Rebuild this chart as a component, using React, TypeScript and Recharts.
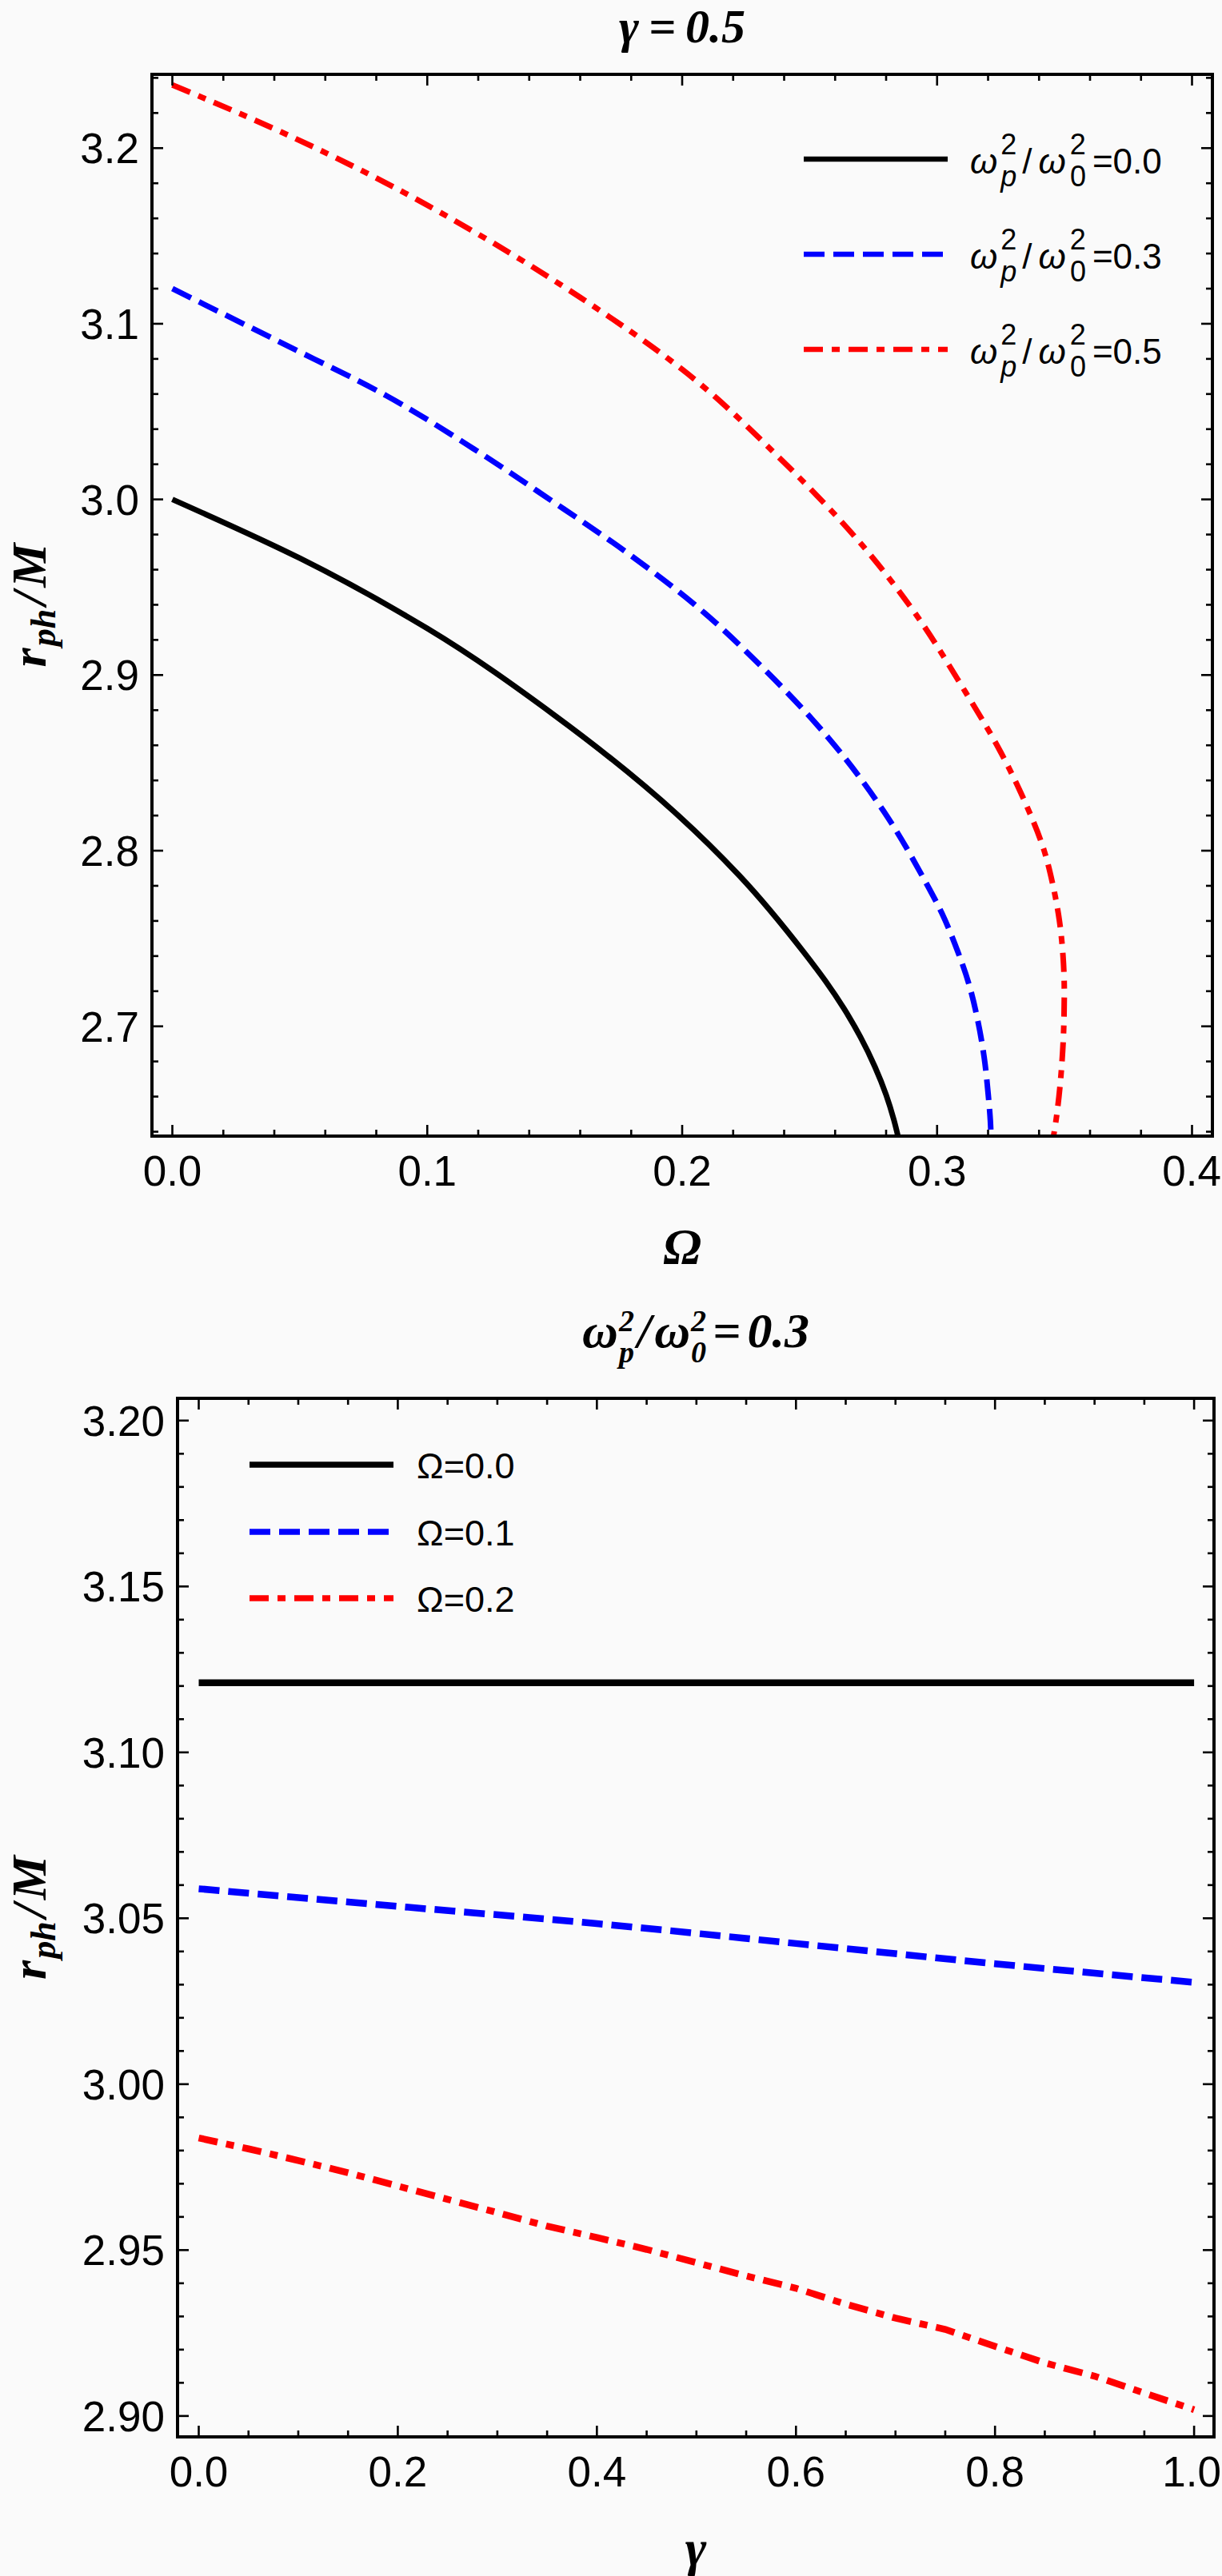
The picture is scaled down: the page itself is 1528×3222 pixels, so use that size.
import React from "react";
import { LineChart, Line, XAxis, YAxis, Legend, Label } from "recharts";

const W = 1528;
const SANS = "'Liberation Sans', Arial, Helvetica, sans-serif";
const SERIF = "'Liberation Serif', 'Times New Roman', Times, serif";

// ---------------- Panel 1 (gamma = 0.5): r_ph/M versus Omega ----------------
const omegaW00 = [0, 0.05, 0.1, 0.15, 0.1985, 0.2223, 0.2478, 0.2561, 0.2635, 0.2699, 0.2756, 0.28, 0.283, 0.2849];
const rW00 = [3.0, 2.9665, 2.9265, 2.877, 2.82, 2.786, 2.742, 2.726, 2.71, 2.694, 2.677, 2.661, 2.647, 2.636];

const omegaW03 = [0, 0.043, 0.084, 0.118, 0.148, 0.179, 0.205, 0.231, 0.2575, 0.2788, 0.2948, 0.302, 0.308, 0.3125, 0.316, 0.3185, 0.32, 0.3209, 0.3212];
const rW03 = [3.12, 3.089, 3.059, 3.029, 3.0, 2.969, 2.94, 2.905, 2.864, 2.823, 2.784, 2.764, 2.743, 2.724, 2.703, 2.682, 2.662, 2.646, 2.636];

const omegaW05 = [0, 0.04, 0.08, 0.12, 0.16, 0.2, 0.24, 0.27, 0.29, 0.31, 0.325, 0.335, 0.342, 0.3455, 0.348, 0.3494, 0.3499, 0.3497, 0.349, 0.3478, 0.3463, 0.3455];
const rW05 = [3.236, 3.211, 3.183, 3.151, 3.115, 3.074, 3.021, 2.975, 2.938, 2.893, 2.856, 2.826, 2.8, 2.78, 2.76, 2.74, 2.72, 2.7, 2.68, 2.66, 2.643, 2.636];

const xTicksTop = [0, 0.02, 0.04, 0.06, 0.08, 0.1, 0.12, 0.14, 0.16, 0.18, 0.2, 0.22, 0.24, 0.26, 0.28, 0.3, 0.32, 0.34, 0.36, 0.38, 0.4];
const xMajorTop = [0, 0.1, 0.2, 0.3, 0.4];
const yTicksTop = [2.64, 2.66, 2.68, 2.7, 2.72, 2.74, 2.76, 2.78, 2.8, 2.82, 2.84, 2.86, 2.88, 2.9, 2.92, 2.94, 2.96, 2.98, 3.0, 3.02, 3.04, 3.06, 3.08, 3.1, 3.12, 3.14, 3.16, 3.18, 3.2, 3.22, 3.24];
const yMajorTop = [2.7, 2.8, 2.9, 3.0, 3.1, 3.2];
const legendTop = ["0.0", "0.3", "0.5"];

// ---------------- Panel 2 (wp^2/w0^2 = 0.3): r_ph/M versus gamma ----------------
const gammaO00 = [0, 1];
const rO00 = [3.121, 3.121];

const gammaO01 = [0, 0.2, 0.4, 0.6, 0.8, 1.0];
const rO01 = [3.0589, 3.0536, 3.0484, 3.0424, 3.0363, 3.0307];

const gammaO02 = [0, 0.05, 0.1, 0.15, 0.2, 0.25, 0.3, 0.35, 0.4, 0.45, 0.5, 0.55, 0.6, 0.65, 0.7, 0.75, 0.8, 0.85, 0.9, 0.95, 1.0];
const rO02 = [2.9838, 2.9805, 2.977, 2.9733, 2.9693, 2.9653, 2.9613, 2.9572, 2.9538, 2.9502, 2.9462, 2.9422, 2.9385, 2.9337, 2.9295, 2.9261, 2.921, 2.916, 2.912, 2.9069, 2.9019];

const xTicksBot = [0, 0.05, 0.1, 0.15, 0.2, 0.25, 0.3, 0.35, 0.4, 0.45, 0.5, 0.55, 0.6, 0.65, 0.7, 0.75, 0.8, 0.85, 0.9, 0.95, 1.0];
const xMajorBot = [0, 0.2, 0.4, 0.6, 0.8, 1.0];
const yTicksBot = [2.9, 2.91, 2.92, 2.93, 2.94, 2.95, 2.96, 2.97, 2.98, 2.99, 3.0, 3.01, 3.02, 3.03, 3.04, 3.05, 3.06, 3.07, 3.08, 3.09, 3.1, 3.11, 3.12, 3.13, 3.14, 3.15, 3.16, 3.17, 3.18, 3.19, 3.2];
const yMajorBot = [2.9, 2.95, 3.0, 3.05, 3.1, 3.15, 3.2];
const legendBot = ["0.0", "0.1", "0.2"];

// ---------------- styles ----------------
const BLACK = "#000000";
const BLUE = "#0000ff";
const RED = "#ff0000";
const DASH = "26 11";
const DOTDASH = "24 11 10 11";
const AXIS = { stroke: "#000", strokeWidth: 4, strokeLinecap: "square" as const };
const TICK_FONT = 53;

const toPts = (xs: number[], ys: number[]) => xs.map((x, i) => ({ x, y: ys[i] }));

type Side = "bottom" | "top" | "left" | "right";

function makeTick(side: Side, majors: number[], digits: number, labelled: boolean) {
  return (p: any) => {
    const x = Number(p.x);
    const y = Number(p.y);
    const v = Number(p.payload.value);
    const isMajor = majors.some((m) => Math.abs(m - v) < 1e-6);
    const len = isMajor ? 14 : 8;
    let x2 = x;
    let y2 = y;
    if (side === "bottom") y2 = y - len;
    if (side === "top") y2 = y + len;
    if (side === "left") x2 = x + len;
    if (side === "right") x2 = x - len;
    const txt = v.toFixed(digits);
    // keep the label inside the page
    const half = ((txt.length - 1) * 0.556 * TICK_FONT) / 2 + 0.139 * TICK_FONT;
    const lx = Math.min(x, W - 1 - half);
    return (
      <g>
        <line x1={x} y1={y} x2={x2} y2={y2} stroke="#000" strokeWidth={2.6} />
        {labelled && isMajor && side === "bottom" && (
          <text x={lx} y={y + 62} textAnchor="middle" fontFamily={SANS} fontSize={TICK_FONT} fill="#000">
            {txt}
          </text>
        )}
        {labelled && isMajor && side === "left" && (
          <text x={x - 16} y={y + 19} textAnchor="end" fontFamily={SANS} fontSize={TICK_FONT} fill="#000">
            {txt}
          </text>
        )}
      </g>
    );
  };
}

// r_ph / M, rotated
const yLabelContent = (p: any) => {
  const vb = p.viewBox;
  const cx = 57;
  const cy = vb.y + vb.height / 2;
  return (
    <text
      x={cx}
      y={cy}
      transform={`rotate(-90 ${cx} ${cy})`}
      textAnchor="middle"
      fontFamily={SERIF}
      fontWeight="bold"
      fontStyle="italic"
      fontSize={62}
      fill="#000"
    >
      r
      <tspan fontSize={44} dy={12} dx={2}>ph</tspan>
      <tspan dy={-12} dx={5}>/</tspan>
      <tspan dx={5}>M</tspan>
    </text>
  );
};

const xLabelContent = (text: string) => (p: any) => {
  const vb = p.viewBox;
  return (
    <text
      x={vb.x + vb.width / 2}
      y={vb.y + 160}
      textAnchor="middle"
      fontFamily={SERIF}
      fontWeight="bold"
      fontStyle="italic"
      fontSize={64}
      fill="#000"
    >
      {text}
    </text>
  );
};

const titleGamma = (p: any) => {
  const vb = p.viewBox;
  return (
    <text
      x={vb.x + vb.width / 2}
      y={vb.y + vb.height - 40}
      textAnchor="middle"
      fontFamily={SERIF}
      fontWeight="bold"
      fontStyle="italic"
      fontSize={60}
      fill="#000"
    >
      γ
      <tspan dx={12}>=</tspan>
      <tspan dx={12}>0.5</tspan>
    </text>
  );
};

const titleRatio = (p: any) => {
  const vb = p.viewBox;
  return (
    <text
      x={vb.x + vb.width / 2}
      y={vb.y + vb.height - 64}
      textAnchor="middle"
      fontFamily={SERIF}
      fontWeight="bold"
      fontStyle="italic"
      fontSize={62}
      fill="#000"
    >
      ω
      <tspan fontSize={38} dy={-20} dx={1}>2</tspan>
      <tspan fontSize={38} dx={-19} dy={39}>p</tspan>
      <tspan dy={-19} dx={4}>/</tspan>
      <tspan dx={4}>ω</tspan>
      <tspan fontSize={38} dy={-20} dx={1}>2</tspan>
      <tspan fontSize={38} dx={-19} dy={39}>0</tspan>
      <tspan dy={-19} dx={8}>=</tspan>
      <tspan dx={8}>0.3</tspan>
    </text>
  );
};

interface Entry {
  color: string;
  dash?: string;
}

const entries: Entry[] = [{ color: BLACK }, { color: BLUE, dash: DASH }, { color: RED, dash: DOTDASH }];

const LegendTop = () => {
  const rows = [49, 168, 287];
  return (
    <svg width={520} height={330}>
      {entries.map((e, i) => (
        <g key={i}>
          <line x1={10} y1={rows[i]} x2={190} y2={rows[i]} stroke={e.color} strokeWidth={6.5} strokeDasharray={e.dash} />
          <text x={218} y={rows[i] + 18} fontFamily={SANS} fontSize={44} fill="#000">
            <tspan fontStyle="italic">ω</tspan>
            <tspan fontSize={36} dy={-24} dx={4}>2</tspan>
            <tspan fontSize={36} fontStyle="italic" dx={-20} dy={40}>p</tspan>
            <tspan dy={-16} dx={7}>/</tspan>
            <tspan fontStyle="italic" dx={8}>ω</tspan>
            <tspan fontSize={36} dy={-24} dx={5}>2</tspan>
            <tspan fontSize={36} dx={-20} dy={40}>0</tspan>
            <tspan dy={-16} dx={8}>{"=" + legendTop[i]}</tspan>
          </text>
        </g>
      ))}
    </svg>
  );
};

const LegendBot = () => {
  const rows = [42, 126, 209];
  return (
    <svg width={420} height={260}>
      {entries.map((e, i) => (
        <g key={i}>
          <line x1={10} y1={rows[i]} x2={190} y2={rows[i]} stroke={e.color} strokeWidth={7.5} strokeDasharray={e.dash} />
          <text x={219} y={rows[i] + 17} fontFamily={SANS} fontSize={45} fill="#000">
            {"Ω=" + legendBot[i]}
          </text>
        </g>
      ))}
    </svg>
  );
};

interface PanelProps {
  pageTop: number;
  height: number;
  marginTop: number;
  marginRight: number;
  leftWidth: number;
  rightWidth: number;
  bottomHeight: number;
  xDomain: [number, number];
  yDomain: [number, number];
  xTicks: number[];
  xMajors: number[];
  yTicks: number[];
  yMajors: number[];
  xDigits: number;
  yDigits: number;
  series: { key: string; pts: { x: number; y: number }[]; color: string; dash?: string; width: number; curve: any }[];
  title: (p: any) => any;
  xLabel: string;
  legend: () => any;
  legendStyle: React.CSSProperties;
}

function Panel(pp: PanelProps) {
  return (
    <div style={{ position: "absolute", left: 0, top: pp.pageTop, width: W, height: pp.height }}>
      <LineChart
        width={W}
        height={pp.height}
        margin={{ top: pp.marginTop, right: pp.marginRight, bottom: 0, left: 0 }}
      >
        <XAxis
          xAxisId="b"
          type="number"
          dataKey="x"
          domain={pp.xDomain}
          allowDataOverflow
          ticks={pp.xTicks}
          interval={0}
          tickSize={0}
          tickMargin={0}
          tickLine={false}
          axisLine={AXIS}
          height={pp.bottomHeight}
          tick={makeTick("bottom", pp.xMajors, pp.xDigits, true)}
          label={<Label content={xLabelContent(pp.xLabel)} />}
        />
        <XAxis
          xAxisId="t"
          orientation="top"
          type="number"
          dataKey="x"
          domain={pp.xDomain}
          allowDataOverflow
          ticks={pp.xTicks}
          interval={0}
          tickSize={0}
          tickMargin={0}
          tickLine={false}
          axisLine={AXIS}
          height={20}
          tick={makeTick("top", pp.xMajors, pp.xDigits, false)}
          label={<Label content={pp.title} />}
        />
        <YAxis
          yAxisId="l"
          type="number"
          domain={pp.yDomain}
          allowDataOverflow
          ticks={pp.yTicks}
          interval={0}
          tickSize={0}
          tickMargin={0}
          tickLine={false}
          axisLine={AXIS}
          width={pp.leftWidth}
          tick={makeTick("left", pp.yMajors, pp.yDigits, true)}
          label={<Label content={yLabelContent} />}
        />
        <YAxis
          yAxisId="r"
          orientation="right"
          type="number"
          domain={pp.yDomain}
          allowDataOverflow
          ticks={pp.yTicks}
          interval={0}
          tickSize={0}
          tickMargin={0}
          tickLine={false}
          axisLine={AXIS}
          width={pp.rightWidth}
          tick={makeTick("right", pp.yMajors, pp.yDigits, false)}
        />
        {pp.series.map((s) => (
          <Line
            key={s.key}
            xAxisId="b"
            yAxisId="l"
            data={s.pts}
            dataKey="y"
            type={s.curve}
            stroke={s.color}
            strokeWidth={s.width}
            strokeDasharray={s.dash}
            dot={false}
            activeDot={false}
            isAnimationActive={false}
          />
        ))}
        <Legend
          layout="horizontal"
          verticalAlign="middle"
          align="center"
          content={pp.legend}
          wrapperStyle={pp.legendStyle}
        />
      </LineChart>
    </div>
  );
}

export default function App() {
  return (
    <div style={{ position: "relative", width: W, height: 3222, background: "#fafafa", overflow: "hidden" }}>
      <style>{"body{margin:0;background:#fafafa;}"}</style>
      <Panel
        pageTop={0}
        height={1600}
        marginTop={73}
        marginRight={2}
        leftWidth={190}
        rightWidth={10}
        bottomHeight={179}
        xDomain={[-0.008, 0.408]}
        yDomain={[2.6375, 3.242]}
        xTicks={xTicksTop}
        xMajors={xMajorTop}
        yTicks={yTicksTop}
        yMajors={yMajorTop}
        xDigits={1}
        yDigits={1}
        series={[
          { key: "w00", pts: toPts(omegaW00, rW00), color: BLACK, width: 7, curve: "monotoneY" },
          { key: "w03", pts: toPts(omegaW03, rW03), color: BLUE, dash: DASH, width: 7, curve: "monotoneY" },
          { key: "w05", pts: toPts(omegaW05, rW05), color: RED, dash: DOTDASH, width: 7, curve: "monotoneY" },
        ]}
        title={titleGamma}
        xLabel="Ω"
        legend={LegendTop}
        legendStyle={{ left: 995, top: 150, width: 520, height: 330 }}
      />
      <Panel
        pageTop={1600}
        height={1622}
        marginTop={129}
        marginRight={2}
        leftWidth={222}
        rightWidth={8}
        bottomHeight={174}
        xDomain={[-0.0213, 1.02]}
        yDomain={[2.8937, 3.2067]}
        xTicks={xTicksBot}
        xMajors={xMajorBot}
        yTicks={yTicksBot}
        yMajors={yMajorBot}
        xDigits={1}
        yDigits={2}
        series={[
          { key: "o00", pts: toPts(gammaO00, rO00), color: BLACK, width: 8.5, curve: "linear" },
          { key: "o01", pts: toPts(gammaO01, rO01), color: BLUE, dash: DASH, width: 8.5, curve: "monotoneX" },
          { key: "o02", pts: toPts(gammaO02, rO02), color: RED, dash: DOTDASH, width: 8.5, curve: "linear" },
        ]}
        title={titleRatio}
        xLabel="γ"
        legend={LegendBot}
        legendStyle={{ left: 302, top: 190, width: 420, height: 260 }}
      />
    </div>
  );
}
